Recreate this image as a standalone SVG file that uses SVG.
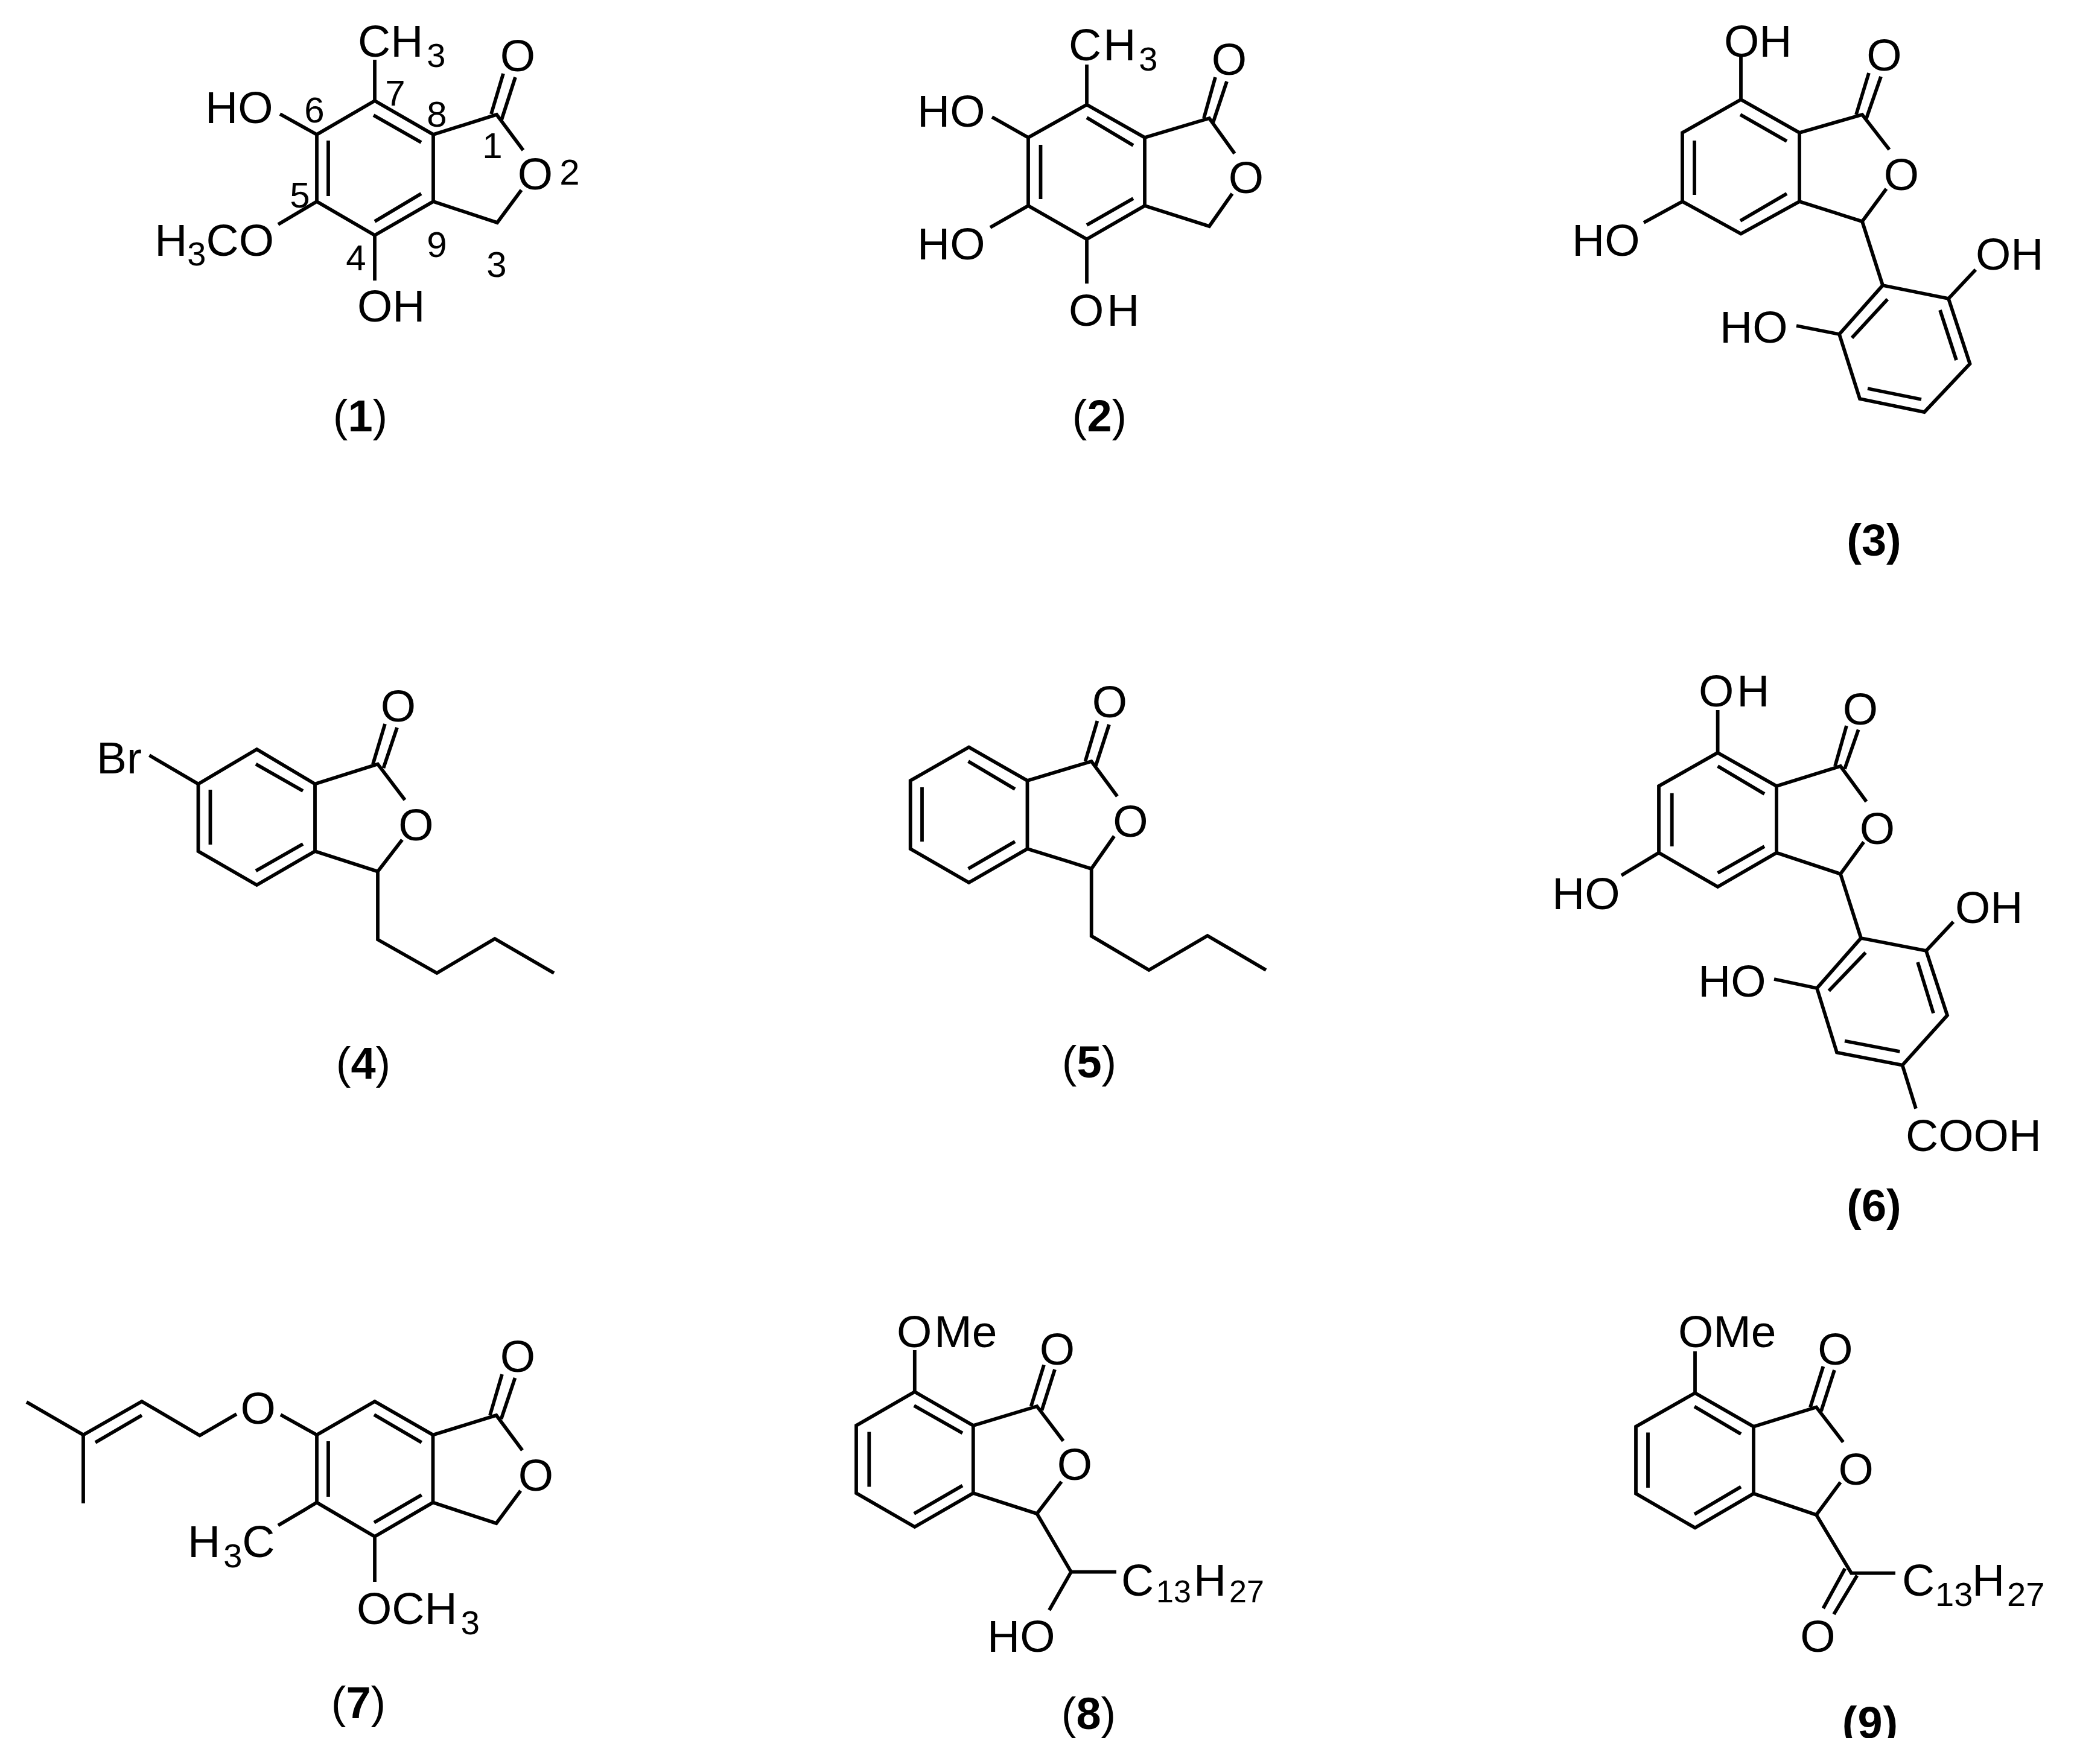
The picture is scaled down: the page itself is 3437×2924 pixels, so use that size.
<svg xmlns="http://www.w3.org/2000/svg" width="3437" height="2924" viewBox="0 0 3437 2924">
<style>
.b{fill:none;stroke:#000;stroke-width:5.8;stroke-linecap:butt;stroke-linejoin:miter}
text{font-family:"Liberation Sans",Arial,sans-serif;fill:#000}
.a{font-size:75px}
.m{text-anchor:middle}
.e{text-anchor:end}
.s{font-size:56px}
.t{font-size:52px}
.n{font-size:60px;text-anchor:middle}
.l{font-size:74px;text-anchor:middle}
.d{font-weight:bold}
</style>
<defs><clipPath id="clip9"><rect x="0" y="0" width="3437" height="2881"/></clipPath></defs>
<rect width="3437" height="2924" fill="#fff"/>
<g id="compound-1">
<path class="b" d="M621 167L718 223L718 334L621 390L525 334L525 223ZM718 223L823 190L867 249M864 315L824 369L718 334M619 191L698 236M698 321L621 367M544 233L544 325M814 189L834 122M831 199L854 128M621 167L621 99M525 223L464 189M525 334L461 372M621 390L621 465"/>
<text class="a" x="593" y="93.500">CH<tspan class="s" dy="17" dx="6">3</tspan></text>
<text class="a m" x="858" y="117.500">O</text>
<text class="a m" x="887" y="314">O</text>
<text class="a" x="340" y="203.500">HO</text>
<text class="a e" x="454" y="424">H<tspan class="s" dy="16">3</tspan><tspan dy="-16">CO</tspan></text>
<text class="a" x="592" y="533">OH</text>
<text class="n" x="655" y="175">7</text>
<text class="n" x="521" y="203">6</text>
<text class="n" x="724" y="210">8</text>
<text class="n" x="816" y="262">1</text>
<text class="n" x="944" y="306">2</text>
<text class="n" x="497" y="344">5</text>
<text class="n" x="724" y="426">9</text>
<text class="n" x="590" y="448">4</text>
<text class="n" x="823" y="459">3</text>
<text class="l" x="597" y="715">(<tspan class="d">1</tspan>)</text>
</g>
<g id="compound-2">
<path class="b" d="M1801 173.500L1897 228L1897 341L1801 396.500L1704 341L1704 228ZM1897 228L2004 196L2046 254.500M2042 321L2004 375L1897 341M1801 195L1878 241M1878 329L1801 373M1724.500 240L1724.500 330M1995 196L2014 128M2010 204L2033 135M1801 173.500L1801 107M1704 228L1644 194M1704 341L1641 377M1801 396.500L1801 470"/>
<text class="a" x="1771" y="99.500">C<tspan dx="3">H</tspan><tspan class="s" dy="17" dx="5">3</tspan></text>
<text class="a m" x="2037" y="123.500">O</text>
<text class="a m" x="2065" y="319.500">O</text>
<text class="a" x="1520" y="210">HO</text>
<text class="a" x="1520" y="430">HO</text>
<text class="a" x="1771" y="539.500">O<tspan dx="5">H</tspan></text>
<text class="l" x="1822" y="715">(<tspan class="d">2</tspan>)</text>
</g>
<g id="compound-3">
<path class="b" d="M2885 165L2982 220L2982 334L2885 387.500L2788 334L2788 220ZM2982 220L3086 190L3131 248M3126 313L3086 367L2982 334M2884 190L2961 234M2961 321L2884 366M2808 233L2808 323M3076 190L3097 121M3093 196L3117 127M2885 165L2885 92M2788 334L2724 369M3086 367L3120 473M3120 473L3229 495L3264.500 603L3189 683L3082 661L3048 554ZM3128 496L3069 560M3215 514L3242 597M3184 662L3095 644M3229 495L3274 447M3048 554L2977 540"/>
<text class="a" x="2857" y="94">OH</text>
<text class="a m" x="3122.500" y="117">O</text>
<text class="a m" x="3151" y="314.500">O</text>
<text class="a" x="2605" y="424">HO</text>
<text class="a" x="3274" y="447">OH</text>
<text class="a" x="2850" y="568">HO</text>
<text class="l d" x="3105.500" y="921">(3)</text>
</g>
<g id="compound-4">
<path class="b" d="M425.500 1242L522 1299.600L522 1411L425.500 1467L328.500 1411L328.500 1299.600ZM522 1299.600L626 1266.600L671 1326M666.500 1392L626 1444.500L522 1411M424 1266.600L502 1311M502 1399L424 1443.500M348.500 1309L348.500 1400M618 1266.600L638 1200M635.500 1273L658 1206M328.500 1299.600L247.500 1252M626 1444.500L626 1557.400L724 1613L820 1556L918 1613"/>
<text class="a" x="160" y="1282">Br</text>
<text class="a m" x="660" y="1195.500">O</text>
<text class="a m" x="689.500" y="1392.500">O</text>
<text class="l" x="602" y="1788">(<tspan class="d">4</tspan>)</text>
</g>
<g id="compound-5">
<path class="b" d="M1605.600 1238.500L1702.500 1294L1702.500 1407L1605.600 1463L1508.700 1407L1508.700 1294ZM1702.500 1294L1808.700 1262L1851.500 1320M1846.400 1386L1808.700 1440L1702.500 1407M1604.600 1262L1682 1308M1682 1395L1604.600 1440M1528 1305L1528 1395M1798.500 1262L1818.400 1195M1816 1269L1838 1201M1808.700 1440L1808.700 1551.600L1904 1608L2001 1551L2098 1608"/>
<text class="a m" x="1839" y="1188.500">O</text>
<text class="a m" x="1873.500" y="1386.500">O</text>
<text class="l" x="1805" y="1786">(<tspan class="d">5</tspan>)</text>
</g>
<g id="compound-6">
<path class="b" d="M2846.600 1247.700L2944 1303L2944 1413.600L2846.600 1470L2749 1413.600L2749 1303ZM2944 1303L3050 1270L3093 1328.700M3088.600 1395.700L3050 1448.600L2944 1413.600M2846.600 1270L2924 1316M2924 1403L2846.600 1447M2770.700 1314.700L2770.700 1403M3041 1270L3060 1203M3057 1274.500L3079.700 1209.500M2846.600 1247.700L2846.600 1177M2749 1413.600L2687 1451M3050 1448.600L3084 1555M3084 1555L3192 1576L3227 1683L3152.600 1765.600L3044 1744.600L3011 1638ZM3091.600 1579L3030.700 1642.500M3178 1595L3204 1679.500M3148.400 1743L3057 1725.500M3192 1576L3237 1528M3011 1638L2940 1623M3152.600 1765.600L3175 1837.700"/>
<text class="a" x="2815" y="1171">O<tspan dx="5">H</tspan></text>
<text class="a m" x="3083" y="1200.500">O</text>
<text class="a m" x="3111" y="1398.500">O</text>
<text class="a" x="2572" y="1507">HO</text>
<text class="a" x="3240" y="1529.600">OH</text>
<text class="a" x="2814" y="1652">HO</text>
<text class="a" x="3158" y="1908">COOH</text>
<text class="l d" x="3105.500" y="2024">(6)</text>
</g>
<g id="compound-7">
<path class="b" d="M621 2323L717.500 2378.500L717.500 2490.600L621 2547L525 2490.600L525 2378.500ZM717.500 2378.500L822.500 2346L865.600 2404M862.700 2471L822.500 2525L717.500 2490.600M620 2345L698.600 2391M698.600 2478L620 2523.700M544 2389L544 2481M812 2346L832 2278M830.600 2352L853.500 2284M525 2378.500L465 2345M392 2344L331 2379.500L235 2323L138 2378.500M235 2346L158 2391M44 2324L138 2378.500L138 2492M525 2490.600L461 2528.600M621 2547L621 2622"/>
<text class="a m" x="427.600" y="2360">O</text>
<text class="a m" x="858" y="2273.500">O</text>
<text class="a m" x="888" y="2470.500">O</text>
<text class="a" x="311" y="2581">H<tspan class="s" dy="17" dx="5">3</tspan><tspan dy="-17">C</tspan></text>
<text class="a" x="591" y="2691.500">OCH<tspan class="s" dy="17" dx="6">3</tspan></text>
<text class="l" x="594" y="2847.500">(<tspan class="d">7</tspan>)</text>
</g>
<g id="compound-8">
<path class="b" d="M1515.800 2307L1612.800 2363L1612.800 2475L1515.800 2531L1419 2475L1419 2363ZM1612.800 2363L1718.400 2331L1762 2388.400M1759 2456L1718.400 2509L1612.800 2475M1514.800 2330L1595 2375.600M1595 2462.500L1514.800 2509M1440.300 2373.600L1440.300 2464.400M1708.700 2331L1730 2262.500M1726.500 2337.600L1748 2270M1515.800 2307L1515.800 2238M1718.400 2509L1775 2605.600L1850 2605.600M1775 2605.600L1738.800 2669"/>
<text class="a" x="1486" y="2233">O<tspan dx="4">Me</tspan></text>
<text class="a m" x="1752" y="2261.500">O</text>
<text class="a m" x="1781" y="2452.500">O</text>
<text class="a" x="1858" y="2644.500">C</text>
<text class="t" x="1916" y="2656">13</text>
<text class="a" x="1978" y="2644.500">H</text>
<text class="t" x="2037" y="2656">27</text>
<text class="a" x="1636" y="2737.500">HO</text>
<text class="l" x="1804" y="2866">(<tspan class="d">8</tspan>)</text>
</g>
<g id="compound-9">
<path class="b" d="M2809 2309L2906 2364.700L2906 2475.800L2809 2532.500L2711 2475.800L2711 2364.700ZM2906 2364.700L3010 2332.600L3054.500 2390.400M3050 2457L3010 2511L2906 2475.800M2808 2331.600L2885 2377M2885 2464.400L2808 2510M2731 2374.600L2731 2466M3000 2332.600L3021.400 2265M3018 2339L3040 2271M2809 2309L2809 2240M3010 2511L3068 2607.600L3141 2607.600M3057.500 2600L3021.400 2666M3077.600 2611.500L3039 2675.700"/>
<text class="a" x="2781" y="2233">OMe</text>
<text class="a m" x="3041.500" y="2261.500">O</text>
<text class="a m" x="3075.600" y="2460.500">O</text>
<text class="a m" x="3012.400" y="2738">O</text>
<text class="a" x="3152" y="2644.500">C</text>
<text class="s" x="3207" y="2662">13</text>
<text class="a" x="3268" y="2644.500">H</text>
<text class="s" x="3326" y="2662">27</text>
<g clip-path="url(#clip9)"><text class="l d" x="3099.500" y="2881" letter-spacing="1">(9)</text></g>
</g>
</svg>
